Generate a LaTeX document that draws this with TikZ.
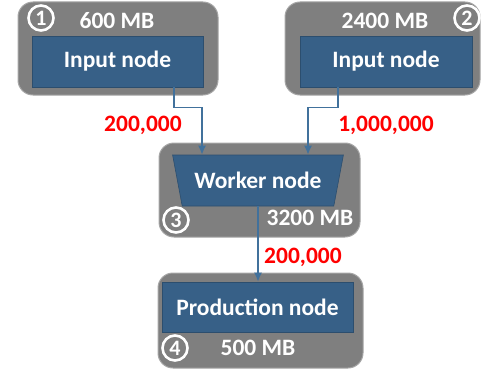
\documentclass[tikz,border=0pt]{standalone}
\usepackage{fontspec}
\setmainfont{Carlito}
\usepackage{tikz}
\usetikzlibrary{shapes.geometric, arrows.meta}
\tikzset{>={Latex[length=9pt, width=8pt]}}
\definecolor{boxgray}{RGB}{127,127,127}
\definecolor{edgegray}{RGB}{166,166,166}
\definecolor{nodeblue}{RGB}{55,96,135}
\definecolor{edgeblue}{RGB}{44,78,110}
\definecolor{flowblue}{RGB}{65,113,156}
\tikzset{
	machine/.style={fill=boxgray, draw=edgegray, line width=1pt, rounded corners=15pt},
	task/.style={fill=nodeblue, draw=edgeblue, line width=.6pt, text=white, font=\bfseries\fontsize{23.5}{27}\selectfont},
	mem/.style={text=white, font=\bfseries\fontsize{23.5}{27}\selectfont},
	num/.style={circle, draw=white, line width=2.6pt, minimum size=25pt, inner sep=0pt, text=white, font=\bfseries\fontsize{22}{25}\selectfont},
	rows/.style={text=red, font=\bfseries\fontsize{23.5}{27}\selectfont},
	flow/.style={->, draw=flowblue, line width=1.5pt}
}
\begin{document}
\begin{tikzpicture}[x=1pt, y=-1pt]
    \useasboundingbox (0, 0) rectangle (487, 369);
    \node[machine, minimum width=200pt, minimum height=93pt](m1) at (118, 48.5){};
    \node[machine, minimum width=195pt, minimum height=93pt](m2) at (382.5, 48.5){};
    \node[machine, minimum width=201pt, minimum height=94pt](m3) at (259.5, 190){};
    \node[machine, minimum width=205pt, minimum height=95pt](m4) at (260.5, 320.5){};
    \node[task, minimum width=171pt, minimum height=51pt](in1) at (117.5, 61.5){Input node};
    \node[task, minimum width=172pt, minimum height=51pt](in2) at (386, 61.5){Input node};
    \node[task, trapezium, trapezium stretches=true, shape border rotate=180, trapezium angle=70, minimum width=171pt, minimum height=51pt](worker) at (258, 180.5){Worker node};
    \node[task, minimum width=191pt, minimum height=50pt](prod) at (257.5, 307){Production node};
    \node[mem](mb1) at (117, 21){600 MB};
    \node[mem](mb2) at (385, 21){2400 MB};
    \node[mem](mb3) at (310, 218){3200 MB};
    \node[mem](mb4) at (258, 348){500 MB};
    \node[num](n1) at (41, 18){1};
    \node[num](n2) at (467, 18){2};
    \node[num](n3) at (176, 220){3};
    \node[num](n4) at (175, 348){4};
    \draw[flow]([xshift=56.5pt]in1.south)--++(0, 20)-|([xshift=-56pt]worker.north);
    \draw[flow]([xshift=-48pt]in2.south)--++(0, 20)-|([xshift=50pt]worker.north);
    \draw[flow](worker.south)--(worker.south |- prod.north);
    \node[rows](r1) at (143, 125){200,000};
    \node[rows](r2) at (386, 125){1,000,000};
    \node[rows](r3) at (303, 257){200,000};
\end{tikzpicture}
\end{document}
